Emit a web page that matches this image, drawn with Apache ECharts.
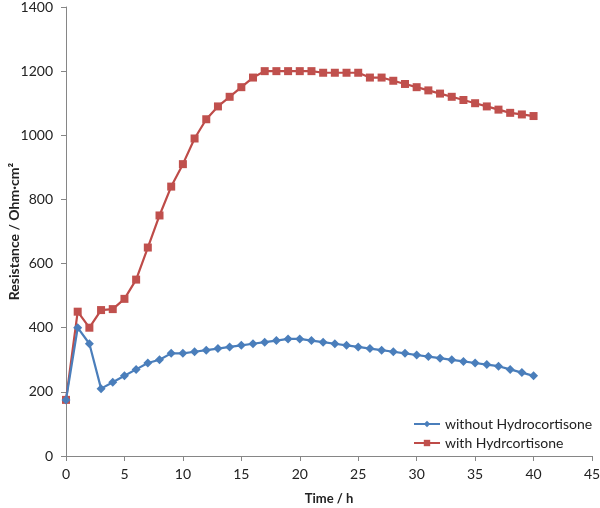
<!DOCTYPE html>
<html><head><meta charset="utf-8">
<script src="https://cdn.jsdelivr.net/npm/echarts@6/dist/echarts.min.js"></script>
<style>html,body{margin:0;padding:0;background:#fff}#c{width:600px;height:508px}</style>
</head><body><div id="c"></div>
<script>
const times = [0,1,2,3,4,5,6,7,8,9,10,11,12,13,14,15,16,17,18,19,20,21,22,23,24,25,26,27,28,29,30,31,32,33,34,35,36,37,38,39,40];
const withoutHC = [175,400,350,210,230,250,270,290,300,320,320,325,330,335,340,345,350,355,360,365,365,360,355,350,345,340,335,330,325,320,315,310,305,300,295,290,285,280,270,260,250];
const withHC = [175,450,400,455,458,490,550,650,750,840,910,990,1050,1090,1120,1150,1180,1200,1200,1200,1200,1200,1195,1195,1195,1195,1180,1180,1170,1160,1150,1140,1130,1120,1110,1100,1090,1080,1070,1065,1060];
const seriesNames = ['without Hydrocortisone','with Hydrcortisone'];
const xTitle = 'Time / h';
const yTitle = 'Resistance / Ohm·cm²';

const font = 'Lato, "Liberation Sans", sans-serif';
const axisCol = '#868686';
const chart = echarts.init(document.getElementById('c'), null, {renderer:'canvas'});
chart.setOption({
  animation:false,
  textStyle:{fontFamily:font},
  grid:{left:66,right:8,top:7,bottom:52,containLabel:false,outerBoundsMode:'none'},
  legend:{
    orient:'vertical', left:408, top:412, itemWidth:26, itemHeight:8, itemGap:5,
    textStyle:{fontFamily:font,fontSize:14,color:'#222'},
    data:seriesNames
  },
  xAxis:{
    type:'value',min:0,max:45,interval:5,
    name:xTitle,nameLocation:'middle',nameGap:36,nameMoveOverlap:false,
    nameTextStyle:{fontFamily:font,fontSize:13,fontWeight:'bold',color:'#222'},
    axisLine:{lineStyle:{color:axisCol}},
    axisTick:{show:true,inside:false,length:5,lineStyle:{color:axisCol}},
    axisLabel:{fontFamily:font,fontSize:14,color:'#222',margin:11,formatter:v=>String(v)},
    splitLine:{show:false}
  },
  yAxis:{
    type:'value',min:0,max:1400,interval:200,
    name:yTitle,nameLocation:'middle',nameGap:45,nameMoveOverlap:false,
    nameTextStyle:{fontFamily:font,fontSize:14,fontWeight:'bold',color:'#222'},
    axisLine:{show:true,lineStyle:{color:axisCol}},
    axisTick:{show:true,inside:false,length:5,lineStyle:{color:axisCol}},
    axisLabel:{fontFamily:font,fontSize:14,color:'#222',margin:13,formatter:v=>String(v)},
    splitLine:{show:false}
  },
  series:[
    {name:seriesNames[0],type:'line',data:times.map((t,i)=>[t,withoutHC[i]]),
     symbol:'diamond',symbolSize:9,
     lineStyle:{color:'#4a7ebb',width:2.2},itemStyle:{color:'#4a7ebb'},z:3},
    {name:seriesNames[1],type:'line',data:times.map((t,i)=>[t,withHC[i]]),
     symbol:'rect',symbolSize:8,
     lineStyle:{color:'#be4b48',width:2.2},itemStyle:{color:'#c0504d'},z:2}
  ]
});
</script></body></html>
